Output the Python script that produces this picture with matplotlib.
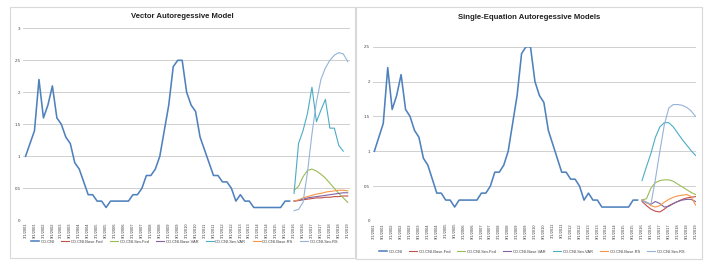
import matplotlib.pyplot as plt
from matplotlib.patches import Rectangle
import numpy as np

plt.rcParams['font.family'] = ['Liberation Sans', 'DejaVu Sans']

# quarterly categories 3/1/2001 .. 3/1/2019
dates = []
for yr in range(2001, 2020):
    for mo in (3, 6, 9, 12):
        dates.append('%d/1/%d' % (mo, yr))
dates = dates[:73]

names = ['CO.CNI', 'CO.CNI.Base.Fed', 'CO.CNI.Sev.Fed', 'CO.CNI.Base.VAR',
         'CO.CNI.Sev.VAR', 'CO.CNI.Base.RS', 'CO.CNI.Sev.RS']
colors = ['#4F81BD', '#C0504D', '#9BBB59', '#8064A2', '#4BACC6', '#F79646', '#95B3D7']

# history, 3/1/2001 .. 12/1/2015
cni = [1.0, 1.2, 1.4, 2.2, 1.6, 1.8, 2.1, 1.6, 1.5, 1.3, 1.2, 0.9, 0.8, 0.6, 0.4,
       0.4, 0.3, 0.3, 0.2, 0.3, 0.3, 0.3, 0.3, 0.3, 0.4, 0.4, 0.5, 0.7, 0.7, 0.8,
       1.0, 1.4, 1.8, 2.4, 2.5, 2.5, 2.0, 1.8, 1.7, 1.3, 1.1, 0.9, 0.7, 0.7, 0.6,
       0.6, 0.5, 0.3, 0.4, 0.3, 0.3, 0.2, 0.2, 0.2, 0.2, 0.2, 0.2, 0.2, 0.3, 0.3]

# forecasts from 3/1/2016 -- vector autoregressive model
base_fed_L = [0.30, 0.31, 0.32, 0.33, 0.34, 0.35, 0.35, 0.36, 0.36, 0.37, 0.37, 0.38, 0.38]
sev_fed_L = [0.47, 0.53, 0.68, 0.78, 0.80, 0.77, 0.72, 0.66, 0.58, 0.50, 0.42, 0.35, 0.28]
base_var_L = [0.30, 0.31, 0.33, 0.35, 0.36, 0.37, 0.38, 0.39, 0.40, 0.41, 0.42, 0.43, 0.43]
sev_var_L = [0.42, 1.20, 1.40, 1.67, 2.08, 1.54, 1.72, 1.89, 1.44, 1.44, 1.17, 1.08]
base_rs_L = [0.30, 0.32, 0.35, 0.37, 0.39, 0.41, 0.42, 0.44, 0.45, 0.46, 0.47, 0.47, 0.46]
sev_rs_L = [0.15, 0.17, 0.28, 0.75, 1.35, 1.85, 2.20, 2.38, 2.50, 2.58, 2.62, 2.60, 2.48]

# forecasts -- single-equation models
base_fed_R = [0.28, 0.22, 0.17, 0.14, 0.13, 0.17, 0.22, 0.25, 0.28, 0.31, 0.33, 0.34, 0.35]
sev_fed_R = [0.30, 0.32, 0.47, 0.55, 0.58, 0.59, 0.59, 0.57, 0.53, 0.49, 0.45, 0.41, 0.38]
base_var_R = [0.30, 0.26, 0.24, 0.28, 0.25, 0.20, 0.21, 0.25, 0.28, 0.30, 0.31, 0.31, 0.28]
sev_var_R = [0.58, 0.78, 0.97, 1.20, 1.35, 1.41, 1.41, 1.35, 1.26, 1.17, 1.09, 1.01, 0.94]
base_rs_R = [0.30, 0.27, 0.22, 0.20, 0.22, 0.27, 0.31, 0.34, 0.36, 0.37, 0.38, 0.35, 0.23]
sev_rs_R = [0.29, 0.27, 0.24, 0.60, 1.00, 1.38, 1.62, 1.67, 1.67, 1.66, 1.63, 1.58, 1.50]

W, H = 708, 269
fig = plt.figure(figsize=(W / 100, H / 100), dpi=100)
fig.patch.set_facecolor('white')

# chart borders
for (x0, y0, x1, y1) in [(10, 7, 354.5, 257.5), (356.5, 7, 702, 259)]:
    fig.patches.append(Rectangle((x0 / W, 1 - y1 / H), (x1 - x0) / W, (y1 - y0) / H,
                                 transform=fig.transFigure, fill=False,
                                 edgecolor='#D9D9D9', lw=0.8))


def panel(box, ymax, xlim, title, title_xy, leg_xy, series):
    x0, y0, x1, y1 = box
    ax = fig.add_axes([x0 / W, 1 - y1 / H, (x1 - x0) / W, (y1 - y0) / H])
    handles = []
    h, = ax.plot(range(len(cni)), cni, color=colors[0], lw=1.15)
    handles.append(h)
    for k, s in enumerate(series):
        h, = ax.plot(range(60, 60 + len(s)), s, color=colors[k + 1], lw=0.8)
        handles.append(h)
    ax.set_xlim(*xlim)
    ax.set_ylim(0, ymax)
    yt = np.arange(0, ymax + 0.01, 0.5)
    ax.set_yticks(yt)
    ax.set_yticklabels(['%g' % v for v in yt], fontsize=3.2, color='#404040')
    ax.set_xticks(range(0, 73, 2))
    ax.set_xticklabels(dates[::2], rotation=90, fontsize=2.9, color='#404040')
    ax.tick_params(length=0, pad=2)
    ax.tick_params(axis='x', pad=1.5)
    ax.grid(axis='y', color='#D0D0D0', lw=0.7)
    ax.set_axisbelow(True)
    for sp in ax.spines.values():
        sp.set_visible(False)
    fig.text(title_xy[0] / W, 1 - title_xy[1] / H, title, ha='center', va='center',
             fontsize=5.6, fontweight='bold', color='#222222')
    ax.legend(handles, names, loc='center', bbox_to_anchor=(leg_xy[0] / W, 1 - leg_xy[1] / H),
              bbox_transform=fig.transFigure, ncol=7, frameon=False, fontsize=2.9,
              handlelength=2.0, handletextpad=0.4, columnspacing=1.6, labelcolor='#404040')
    return ax


panel((23.3, 28.3, 350, 220.3), 3, (-0.5, 72.5), 'Vector Autoregessive Model', (182, 16),
      (184.5, 241.7), [base_fed_L, sev_fed_L, base_var_L, sev_var_L, base_rs_L, sev_rs_L])
panel((373, 46.7, 696, 221), 2.5, (-0.3, 72.1), 'Single-Equation Autoregessive Models', (529, 17.7),
      (532, 251.7), [base_fed_R, sev_fed_R, base_var_R, sev_var_R, base_rs_R, sev_rs_R])

fig.savefig('out.png', dpi=100)
